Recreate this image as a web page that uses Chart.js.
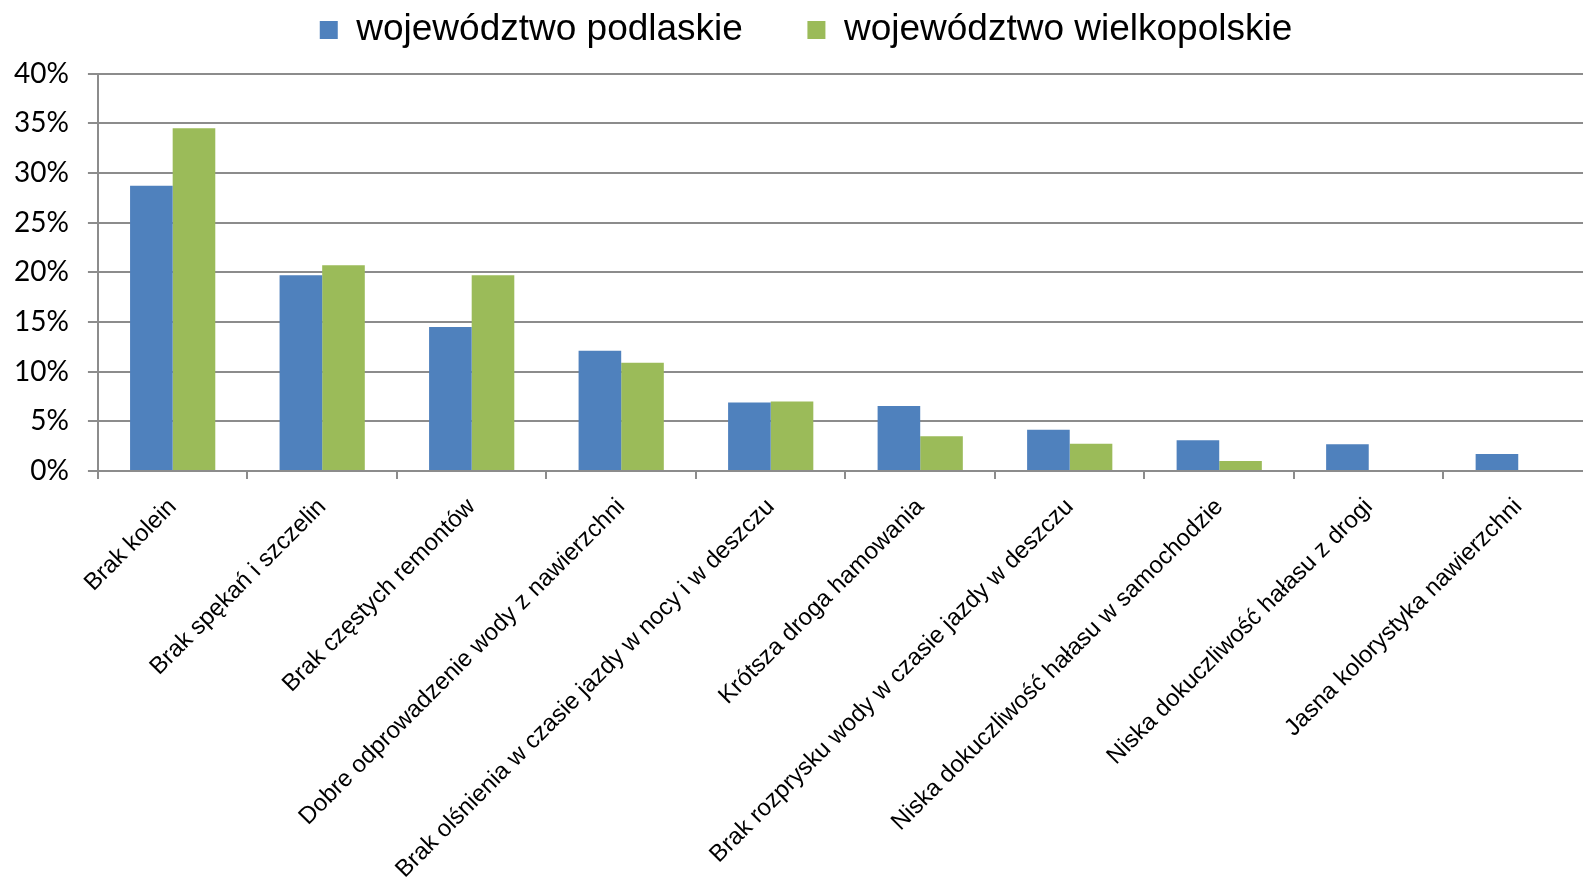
<!DOCTYPE html>
<html>
<head>
<meta charset="utf-8">
<script src="https://cdn.jsdelivr.net/npm/chart.js@4/dist/chart.umd.min.js"></script>
<style>
  html, body { margin: 0; padding: 0; background: #fff; overflow: hidden; }
  #wrap { position: absolute; left: 0; top: 0; width: 1583px; height: 877px; overflow: hidden; }
</style>
</head>
<body>
<div id="wrap">
  <canvas id="barChart" width="1613" height="898"></canvas>
</div>
<script>
const categories = [
    "Brak kolein",
    "Brak spękań i szczelin",
    "Brak częstych remontów",
    "Dobre odprowadzenie wody z nawierzchni",
    "Brak olśnienia w czasie jazdy w nocy i w deszczu",
    "Krótsza droga hamowania",
    "Brak rozprysku wody w czasie jazdy w deszczu",
    "Niska dokuczliwość hałasu w samochodzie",
    "Niska dokuczliwość hałasu z drogi",
    "Jasna kolorystyka nawierzchni"
];
const podlaskie = [28.7, 19.7, 14.5, 12.1, 6.9, 6.55, 4.15, 3.1, 2.7, 1.7];
const wielkopolskie = [34.5, 20.7, 19.7, 10.9, 7.0, 3.5, 2.75, 1.0, 0, 0];
const seriesNames = ["województwo podlaskie", "województwo wielkopolskie"];
const yTicks = [0, 5, 10, 15, 20, 25, 30, 35, 40];

const gridGray = '#8c8c8c';

// nudge the legend a little to the right, like in the original
const legendShift = {
    id: 'legendShift',
    afterLayout(chart) {
        chart.legend.left += 12;
        chart.legend.right += 12;
    }
};

const ctx = document.getElementById('barChart').getContext('2d');
new Chart(ctx, {
    type: 'bar',
    data: {
        labels: categories,
        datasets: [{
            label: seriesNames[0],
            data: podlaskie,
            backgroundColor: '#4f81bd',
            categoryPercentage: 0.57,
            barPercentage: 1.0
        }, {
            label: seriesNames[1],
            data: wielkopolskie,
            backgroundColor: '#9bbb59',
            categoryPercentage: 0.57,
            barPercentage: 1.0
        }]
    },
    plugins: [legendShift],
    options: {
        responsive: false,
        animation: false,
        devicePixelRatio: 1,
        layout: {
            // negative top keeps the wide legend gap without pushing the plot down
            padding: { top: -53, left: -5, right: 20, bottom: 0 }
        },
        plugins: {
            tooltip: { enabled: false },
            legend: {
                position: 'top',
                labels: {
                    color: '#000',
                    font: { family: 'Liberation Sans, Arial, sans-serif', size: 37 },
                    boxWidth: 18,
                    boxHeight: 18,
                    padding: 64.5
                }
            },
            // empty spacer between legend and plot
            subtitle: {
                display: true,
                text: '',
                weight: 500,
                padding: 0,
                font: { size: 15, lineHeight: 1 }
            }
        },
        scales: {
            x: {
                grid: {
                    offset: true,
                    drawOnChartArea: false,
                    tickLength: 8,
                    color: gridGray,
                    lineWidth: 2
                },
                border: { color: gridGray, width: 2 },
                ticks: {
                    autoSkip: false,
                    maxRotation: 45,
                    minRotation: 45,
                    padding: 14,
                    color: '#000',
                    font: { family: 'Liberation Sans, Arial, sans-serif', size: 24 }
                }
            },
            y: {
                min: 0,
                max: 40,
                afterBuildTicks: axis => { axis.ticks = yTicks.map(v => ({ value: v })); },
                grid: {
                    tickLength: 10,
                    color: gridGray,
                    lineWidth: 2
                },
                border: { color: gridGray, width: 2 },
                ticks: {
                    autoSkip: false,
                    padding: 19,
                    color: '#000',
                    font: { family: 'Lato, sans-serif', size: 28 },
                    callback: v => v + '%'
                }
            }
        }
    }
});
</script>
</body>
</html>
